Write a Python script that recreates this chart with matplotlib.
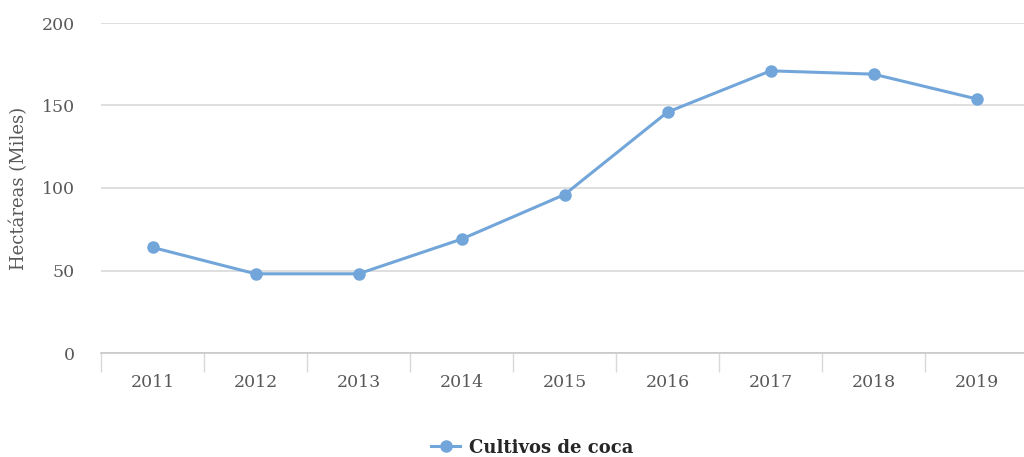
import matplotlib
matplotlib.use("Agg")
import matplotlib.pyplot as plt
from matplotlib.ticker import FixedLocator, NullFormatter

years = ["2011", "2012", "2013", "2014", "2015", "2016", "2017", "2018", "2019"]
hectares = [64, 48, 48, 69, 96, 146, 171, 169, 154]
series_name = "Cultivos de coca"
y_label = "Hectáreas (Miles)"
y_ticks = [0, 50, 100, 150, 200]

line_color = "#72a6da"
text_color = "#595959"
grid_color = "#d9d9d9"

plt.rcParams["font.family"] = ["DejaVu Serif"]

fig = plt.figure(figsize=(10.24, 4.57), dpi=100)
ax = fig.add_axes([101 / 1024, 1 - 353 / 457, 927 / 1024, 330 / 457])

x = list(range(len(years)))
ax.plot(x, hectares, color=line_color, lw=2.2, marker="o", ms=8,
        markerfacecolor=line_color, markeredgecolor=line_color,
        label=series_name, zorder=3)

ax.set_xlim(-0.5, len(years) - 0.5)
ax.set_ylim(0, 200)
ax.set_yticks(y_ticks)
ax.set_xticks(x)
ax.set_xticklabels(years)
ax.xaxis.set_minor_locator(FixedLocator([i - 0.5 for i in range(len(years) + 1)]))
ax.xaxis.set_minor_formatter(NullFormatter())

ax.tick_params(axis="x", which="major", length=0, pad=15, labelsize=12.5,
               labelcolor=text_color)
ax.tick_params(axis="x", which="minor", length=14, width=1, color=grid_color,
               direction="out")
ax.tick_params(axis="y", length=0, pad=19, labelsize=12.5, labelcolor=text_color)

ax.grid(axis="y", color=grid_color, lw=1.2)
ax.set_axisbelow(True)
for side in ("top", "right", "left"):
    ax.spines[side].set_visible(False)
ax.spines["bottom"].set_color("#c8c8c8")
ax.spines["bottom"].set_linewidth(1.2)

ax.set_ylabel(y_label, fontsize=13, color=text_color, labelpad=10)

leg = fig.legend(loc="lower center", bbox_to_anchor=(0.52, -0.035), frameon=False,
                 prop={"weight": "bold", "size": 13}, handlelength=1.6,
                 handletextpad=0.5)
for t in leg.get_texts():
    t.set_color("#262626")

fig.savefig("out.png", dpi=100)
